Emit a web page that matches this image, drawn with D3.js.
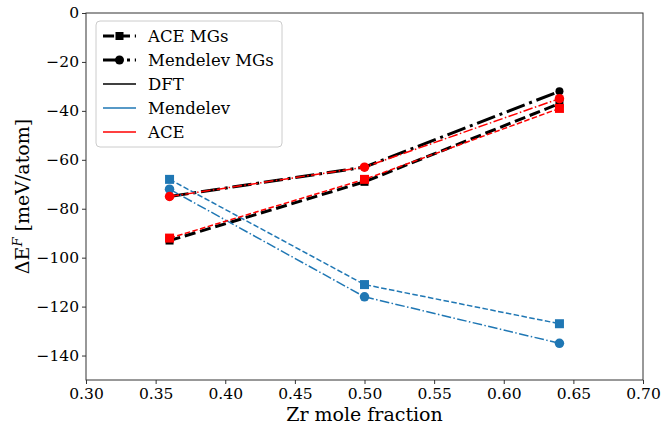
<!DOCTYPE html>
<html>
<head>
<meta charset="utf-8">
<script src="https://cdn.jsdelivr.net/npm/d3@7"></script>
<style>
  body { margin: 0; background: #fff; }
  text { font-family: "DejaVu Serif", serif; fill: #000; }
</style>
</head>
<body>
<div id="chart"></div>
<script>
// Zr mole fraction
var zr = [0.36, 0.50, 0.64];

// formation energies, meV/atom
var dftAce = [-93, -69, -37];
var dftMend = [-75, -63, -32];
var mendAce = [-68, -111, -127];
var mendMend = [-72, -116, -135];
var aceAce = [-92, -68, -39];
var aceMend = [-75, -63, -35];

var xTicks = [0.30, 0.35, 0.40, 0.45, 0.50, 0.55, 0.60, 0.65, 0.70];
var yTicks = [0, -20, -40, -60, -80, -100, -120, -140];

var legendLabels = ["ACE MGs", "Mendelev MGs", "DFT", "Mendelev", "ACE"];

var width = 663, height = 425;
var margin = {top: 13, right: 20, bottom: 45, left: 86};

var svg = d3.select("#chart").append("svg")
  .attr("width", width)
  .attr("height", height);

var x = d3.scaleLinear().domain([0.3, 0.7]).range([margin.left, width - margin.right]);
var y = d3.scaleLinear().domain([-150, 0]).range([height - margin.bottom, margin.top]);

// axes
var xAxis = svg.append("g")
  .attr("transform", "translate(0," + (height - margin.bottom) + ")")
  .call(d3.axisBottom(x).tickValues(xTicks).tickFormat(d3.format(".2f")).tickSize(4).tickSizeOuter(0));
var yAxis = svg.append("g")
  .attr("transform", "translate(" + margin.left + ",0)")
  .call(d3.axisLeft(y).tickValues(yTicks).tickFormat(function(d) { return d < 0 ? "\u2212" + (-d) : d; }).tickSize(4).tickSizeOuter(0));

[xAxis, yAxis].forEach(function(a) {
  a.select(".domain").remove();
  a.selectAll("line").attr("stroke", "#333");
  a.selectAll("text").style("font-size", "15.5px").style("font-family", "DejaVu Serif");
});
xAxis.selectAll("text").attr("dy", "0.77em");

// frame
svg.append("rect")
  .attr("x", margin.left).attr("y", margin.top)
  .attr("width", width - margin.left - margin.right)
  .attr("height", height - margin.top - margin.bottom)
  .attr("fill", "none").attr("stroke", "#333").attr("stroke-width", 1);

var line = d3.line()
  .x(function(d, i) { return x(zr[i]); })
  .y(function(d) { return y(d); });

function dashFor(style, lw) {
  if (style == "dash") return [3.7 * lw, 1.6 * lw].join(",");
  return [6.4 * lw, 1.6 * lw, 1 * lw, 1.6 * lw].join(",");
}

function series(vals, color, lw, style, marker, ms) {
  var g = svg.append("g");
  g.append("path")
    .datum(vals)
    .attr("d", line)
    .attr("fill", "none")
    .attr("stroke", color)
    .attr("stroke-width", lw)
    .attr("stroke-dasharray", dashFor(style, lw));
  if (marker == "square") {
    g.selectAll("rect").data(vals).enter().append("rect")
      .attr("x", function(d, i) { return x(zr[i]) - ms / 2; })
      .attr("y", function(d) { return y(d) - ms / 2; })
      .attr("width", ms).attr("height", ms)
      .attr("fill", color);
  } else {
    g.selectAll("circle").data(vals).enter().append("circle")
      .attr("cx", function(d, i) { return x(zr[i]); })
      .attr("cy", function(d) { return y(d); })
      .attr("r", ms / 2)
      .attr("fill", color);
  }
}

series(dftAce, "#000", 3, "dash", "square", 8);
series(dftMend, "#000", 3, "dashdot", "circle", 8);
series(mendAce, "#1f77b4", 1.5, "dash", "square", 9);
series(mendMend, "#1f77b4", 1.5, "dashdot", "circle", 9.5);
series(aceAce, "#ff0000", 1.5, "dash", "square", 9);
series(aceMend, "#ff0000", 1.5, "dashdot", "circle", 9.5);

// axis titles
svg.append("text")
  .attr("x", (margin.left + width - margin.right) / 2)
  .attr("y", 421)
  .attr("text-anchor", "middle")
  .style("font-size", "19px")
  .text("Zr mole fraction");

var yl = svg.append("text")
  .attr("transform", "translate(29," + ((margin.top + height - margin.bottom) / 2) + ") rotate(-90)")
  .attr("text-anchor", "middle")
  .style("font-size", "19px");
yl.append("tspan").text("\u0394E");
yl.append("tspan").attr("dy", -7).style("font-size", "13px").style("font-style", "italic").text("F");
yl.append("tspan").attr("dy", 7).text(" [meV/atom]");

// legend
var lg = svg.append("g").attr("transform", "translate(96,21)");
lg.append("rect")
  .attr("width", 186).attr("height", 126).attr("rx", 4)
  .attr("fill", "#fff").attr("fill-opacity", 0.8)
  .attr("stroke", "#ccc");

var legendStyle = [
  {color: "#000", lw: 3, style: "dash", marker: "square"},
  {color: "#000", lw: 3, style: "dashdot", marker: "circle"},
  {color: "#000", lw: 1.3, style: "solid"},
  {color: "#1f77b4", lw: 1.3, style: "solid"},
  {color: "#ff0000", lw: 1.3, style: "solid"}
];

legendLabels.forEach(function(lab, i) {
  var s = legendStyle[i];
  var ly = 15 + i * 24;
  var row = lg.append("g").attr("transform", "translate(0," + ly + ")");
  var seg = row.append("line")
    .attr("x1", 7).attr("x2", 40).attr("y1", 0).attr("y2", 0)
    .attr("stroke", s.color).attr("stroke-width", s.lw);
  if (s.style == "dash") seg.attr("stroke-dasharray", "11.1,4.8");
  if (s.style == "dashdot") seg.attr("stroke-dasharray", "19.2,4.8,3,4.8");
  if (s.marker == "square") {
    row.append("rect").attr("x", 19.5).attr("y", -4).attr("width", 8).attr("height", 8).attr("fill", s.color);
  } else if (s.marker == "circle") {
    row.append("circle").attr("cx", 23.5).attr("cy", 0).attr("r", 4.5).attr("fill", s.color);
  }
  row.append("text")
    .attr("x", 52).attr("y", 0).attr("dy", "0.35em")
    .style("font-size", "16.5px")
    .text(lab);
});
</script>
</body>
</html>
